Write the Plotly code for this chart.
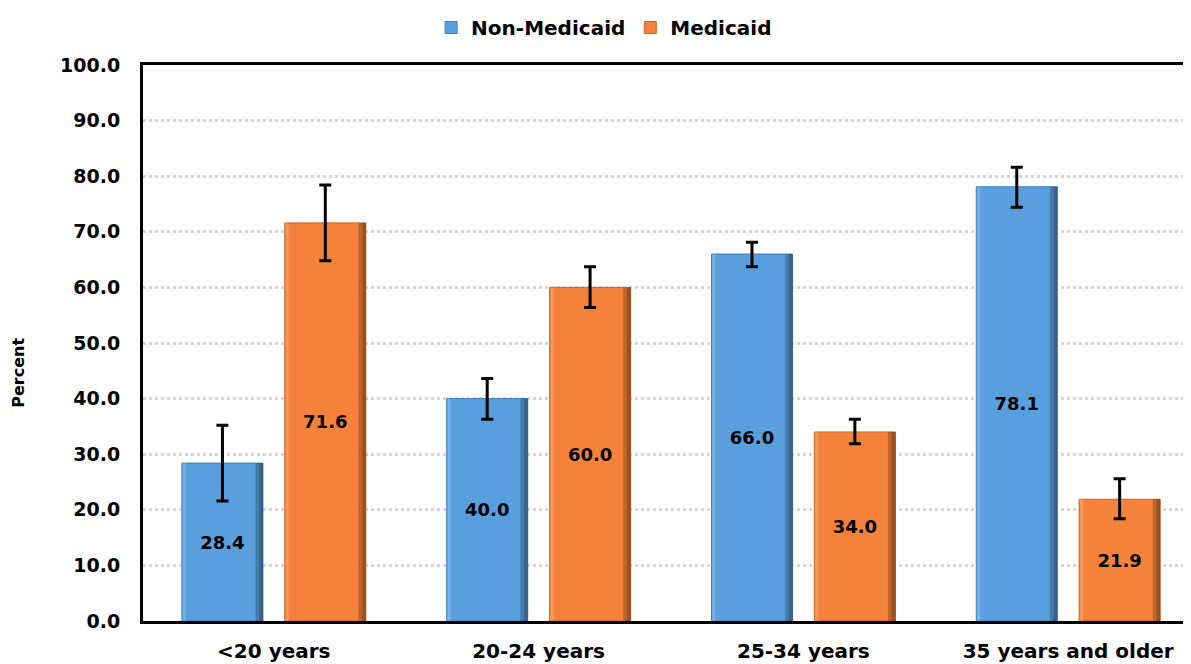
import plotly.graph_objects as go

categories = ["<20 years", "20-24 years", "25-34 years", "35 years and older"]
non_medicaid = [28.4, 40.0, 66.0, 78.1]
medicaid = [71.6, 60.0, 34.0, 21.9]
non_medicaid_upper = [35.2, 43.6, 68.1, 81.6]
non_medicaid_lower = [21.6, 36.3, 63.7, 74.4]
medicaid_upper = [78.4, 63.7, 36.3, 25.6]
medicaid_lower = [64.8, 56.4, 31.9, 18.4]
y_ticks = [0, 10, 20, 30, 40, 50, 60, 70, 80, 90, 100]

FONT = "DejaVu Sans"
BAR_W = 0.306
OFFSETS = {"Non-Medicaid": -0.347, "Medicaid": 0.0415}
EDGE_W = 0.028

def err(vals, up, lo):
    return dict(type="data", symmetric=False,
                array=[u - v for u, v in zip(up, vals)],
                arrayminus=[v - l for v, l in zip(vals, lo)],
                color="black", thickness=3, width=6)

fig = go.Figure()
series = [
    ("Non-Medicaid", non_medicaid, non_medicaid_upper, non_medicaid_lower, "#5A9FDD", "#3F7FB8"),
    ("Medicaid", medicaid, medicaid_upper, medicaid_lower, "#F5823A", "#C8641F"),
]
for name, vals, up, lo, col, lcol in series:
    off = OFFSETS[name]
    fig.add_trace(go.Bar(
        name=name, x=categories, y=vals, offset=off, width=BAR_W,
        marker=dict(color=col, line=dict(color=lcol, width=1)),
        text=[f"{v:.1f}" for v in vals], textposition="inside",
        insidetextanchor="middle",
        textfont=dict(family=FONT, size=18, color="black", weight="bold"),
    ))
    # bevel shading: lighter left edge, darker right edge
    fig.add_trace(go.Bar(
        x=categories, y=vals, offset=off + 0.003, width=0.012,
        marker=dict(color="rgba(255,255,255,0.18)", line=dict(width=0)),
        showlegend=False, hoverinfo="skip",
    ))
    fig.add_trace(go.Bar(
        x=categories, y=vals, offset=off + BAR_W - EDGE_W, width=EDGE_W,
        marker=dict(color="rgba(0,0,0,0.22)", line=dict(width=0)),
        showlegend=False, hoverinfo="skip",
    ))
    fig.add_trace(go.Bar(
        x=categories, y=vals, offset=off + BAR_W - EDGE_W / 2, width=EDGE_W / 2,
        marker=dict(color="rgba(0,0,0,0.18)", line=dict(width=0)),
        showlegend=False, hoverinfo="skip",
    ))
    # error bars drawn last, on an invisible bar at the same place
    fig.add_trace(go.Bar(
        x=categories, y=vals, offset=off, width=BAR_W,
        marker=dict(color="rgba(0,0,0,0)", line=dict(width=0)),
        error_y=err(vals, up, lo), showlegend=False, hoverinfo="skip",
    ))

fig.add_annotation(
    text="Percent", textangle=-90, xref="paper", yref="paper",
    x=-0.119, y=0.447, xanchor="center", yanchor="middle", showarrow=False,
    font=dict(family=FONT, size=16, weight="bold", color="black"),
)

fig.update_layout(
    width=1183, height=656,
    margin=dict(l=135, r=0, t=51, b=43),
    paper_bgcolor="white", plot_bgcolor="white",
    barmode="overlay",
    font=dict(family=FONT, color="black"),
    legend=dict(orientation="h", x=0.44, xanchor="center", y=1.068, yanchor="middle",
                font=dict(family=FONT, size=20, weight="bold"),
                itemwidth=30, tracegroupgap=0),
    xaxis=dict(range=[-0.494, 3.464], showline=True, linecolor="black", linewidth=3,
               mirror=True, showgrid=False, ticks="", ticklabelstandoff=10,
               tickfont=dict(family=FONT, size=20, weight="bold", color="black")),
    yaxis=dict(range=[0, 100], tickvals=y_ticks, ticktext=[f"{v:.1f}" for v in y_ticks],
               showline=True, linecolor="black", linewidth=3, mirror=False,
               showgrid=True, gridcolor="#D6D6D6", gridwidth=3, griddash="dot",
               ticks="", ticklabelstandoff=16, zeroline=False,
               tickfont=dict(family=FONT, size=19, weight="bold", color="black")),
)

fig.write_html("out.html")
